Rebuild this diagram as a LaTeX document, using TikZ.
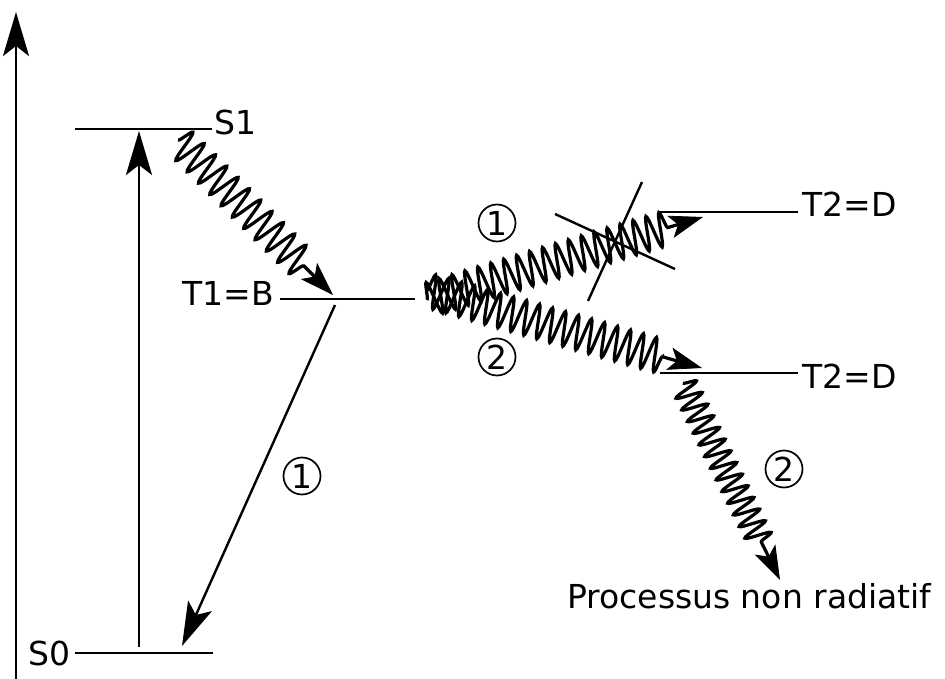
\documentclass[tikz,border=0pt]{standalone}
\usepackage{fontspec}
\setmainfont{DejaVu Sans}
\usetikzlibrary{arrows.meta,decorations.pathmorphing}
\begin{document}
\begin{tikzpicture}[x=1pt,y=-1pt,
  level/.style={line width=2.4pt},
  lbl/.style={font=\fontsize{33}{36}\selectfont,inner sep=0pt,anchor=base west},
  num/.style={circle,draw,line width=1.7pt,minimum size=37pt,inner sep=0pt,
    font=\fontsize{33}{35}\selectfont},
  bigtip/.style={-{Stealth[length=44pt,width=26pt,inset=10pt]}},
  wave/.style={line width=3.2pt,decorate,
    decoration={snake,segment length=13.5pt,amplitude=17pt,post length=36pt},
    -{Stealth[length=34pt,width=23pt,inset=8pt,line width=0.8pt]}},
  crossline/.style={line width=2.4pt}]
\useasboundingbox (0,0) rectangle (945,679);
% axis
\coordinate (ax0) at (16,679);
\coordinate (ax1) at (16,12);
\draw[level,bigtip] (ax0) -- (ax1);
% levels
\coordinate (s1a) at (75,129); \coordinate (s1b) at (212,129);
\coordinate (s0a) at (75,653); \coordinate (s0b) at (213,653);
\coordinate (t1a) at (280,299); \coordinate (t1b) at (415,299);
\coordinate (tua) at (660,212); \coordinate (tub) at (798,212);
\coordinate (tla) at (660,373); \coordinate (tlb) at (798,373);
\draw[level] (s1a) -- (s1b);
\draw[level] (s0a) -- (s0b);
\draw[level] (t1a) -- (t1b);
\draw[level] (tua) -- (tub);
\draw[level] (tla) -- (tlb);
\node[lbl] (S1) at (214,135) {S1};
\node[lbl] (S0) at (28,665) {S0};
\node[lbl] (T1) at (182,305) {T1=B};
\node[lbl] (T2u) at (802,217) {T2=D};
\node[lbl] (T2l) at (802,388) {T2=D};
\node[lbl] (P) at (567,608) {Processus non radiatif};
% numbers
\node[num] (n1a) at (302,476) {1};
\node[num] (n1b) at (497,223) {1};
\node[num] (n2a) at (497,357) {2};
\node[num] (n2b) at (784,469) {2};
% straight arrows
\coordinate (up0) at (139,647);
\coordinate (up1) at (139,131);
\draw[line width=2.4pt,bigtip] (up0) -- (up1);
\coordinate (dn0) at (335,305);
\coordinate (dn1) at (182,646);
\draw[line width=2.4pt,bigtip] (dn0) -- (dn1);
% wavy arrows
\coordinate (w1s) at (178,140); \coordinate (w1e) at (333,295);
\draw[wave,decoration={snake,segment length=16pt,amplitude=16pt,post length=36pt}] (w1s) -- (w1e);
\coordinate (w2s) at (427,300); \coordinate (w2e) at (703,217);
\draw[wave] (w2s) -- (w2e);
\coordinate (w3s) at (427,290); \coordinate (w3e) at (702,368);
\draw[wave] (w3s) -- (w3e);
\coordinate (w4s) at (683,383); \coordinate (w4e) at (780,580);
\draw[wave,decoration={snake,segment length=13pt,amplitude=13pt,post length=36pt}] (w4s) -- (w4e);
% cross
\coordinate (c1a) at (555,214); \coordinate (c1b) at (675,269);
\coordinate (c2a) at (642,182); \coordinate (c2b) at (588,301);
\draw[crossline] (c1a) -- (c1b);
\draw[crossline] (c2a) -- (c2b);
\end{tikzpicture}
\end{document}
